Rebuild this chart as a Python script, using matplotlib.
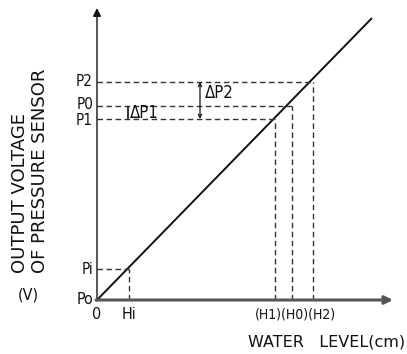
import matplotlib
matplotlib.use('Agg')
import matplotlib.pyplot as plt

plt.rcParams['font.family'] = ['DejaVu Sans']
plt.rcParams['font.stretch'] = 'condensed'

# schematic values (water level vs sensor output)
levels = [32, 178, 195, 216]          # Hi, H1, H0, H2
outputs = [31, 181, 194, 218]         # Pi, P1, P0, P2
level_names = ['Hi', '(H1)', '(H0)', '(H2)']
output_names = ['Pi', 'P1', 'P0', 'P2']
label_nudge = [0, -1.5, 1.5, 0]       # keeps P1 / P0 labels apart
line_x = [0, 275]
line_y = [0, 282]

fig = plt.figure(figsize=(4.07, 3.54), dpi=100)
ax = fig.add_axes([0, 0, 1, 1])
ax.set_xlim(-97, 310)
ax.set_ylim(-54, 300)
ax.axis('off')

ink = '#111111'
dash = '#333333'

# axes with arrows
ax.annotate('', xy=(0, 292), xytext=(0, -1),
            arrowprops=dict(arrowstyle='-|>', color=ink, lw=1.0,
                            mutation_scale=12, shrinkA=0, shrinkB=0))
ax.annotate('', xy=(296, 0), xytext=(-1, 0),
            arrowprops=dict(arrowstyle='-|>', color='#555555', lw=2.2,
                            mutation_scale=12, shrinkA=0, shrinkB=0))

# characteristic line
ax.plot(line_x, line_y, color=ink, lw=1.4, solid_capstyle='butt')

# dashed projections
for h, p in zip(levels, outputs):
    ax.plot([0, h], [p, p], color=dash, lw=1.0, ls=(0, (4, 2.5)))
    ax.plot([h, h], [0, p], color=dash, lw=1.0, ls=(0, (4, 2.5)))

# tick-like labels
for p, name, dy in zip(outputs, output_names, label_nudge):
    ax.text(-4, p + dy, name, ha='right', va='center', fontsize=11, color=ink)
ax.text(-4, 0, 'Po', ha='right', va='center', fontsize=11.5, color=ink)
ax.text(0, -7, '0', ha='center', va='top', fontsize=11.5, color=ink)
ax.text(levels[0], -7, level_names[0], ha='center', va='top', fontsize=11.5, color=ink)
ax.text(levels[2] + 3, -7, ''.join(level_names[1:]), ha='center', va='top',
        fontsize=10, color=ink)

# delta P2 arrow
ax.annotate('', xy=(103, outputs[3]), xytext=(103, outputs[1]),
            arrowprops=dict(arrowstyle='<->', color=ink, lw=0.9,
                            mutation_scale=6, shrinkA=0, shrinkB=0))
ax.text(108, (outputs[3] + outputs[2]) / 2 + 1, '\u0394P2', ha='left', va='center',
        fontsize=12, color=ink)

# delta P1 bracket
ax.plot([31, 31], [outputs[1] + 1, outputs[2] - 1], color=ink, lw=1.2)
ax.text(33, (outputs[1] + outputs[2]) / 2, '\u0394P1', ha='left', va='center',
        fontsize=12, color=ink)

# axis titles
ax.text(308, -42, 'WATER   LEVEL(cm)', ha='right', va='center', fontsize=11.5,
        fontstretch='normal', color=ink)
ax.text(-77, 27, 'OUTPUT VOLTAGE', rotation=90, ha='center', va='bottom',
        fontsize=13, fontstretch='normal', color=ink)
ax.text(-57, 27, 'OF PRESSURE SENSOR', rotation=90, ha='center', va='bottom',
        fontsize=13, fontstretch='normal', color=ink)
ax.text(-69, 5, '(V)', ha='center', va='center', fontsize=11.5, color=ink)

fig.savefig('out.png', dpi=100, facecolor='white')
